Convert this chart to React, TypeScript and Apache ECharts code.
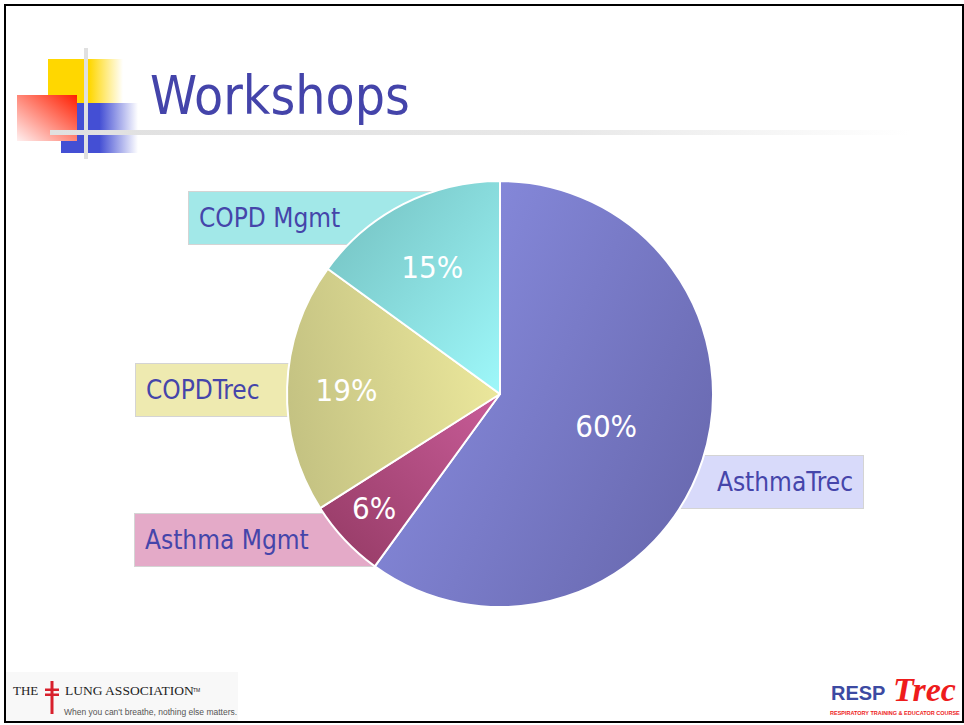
import React, { useEffect, useRef } from "react";
import * as echarts from "echarts";

const titleText = "Workshops";
const categories = ["AsthmaTrec", "Asthma Mgmt", "COPDTrec", "COPD Mgmt"];
const values = [60, 6, 19, 15];

// styles (kept apart from data)
const sliceGrad: [number, number, number, number, string, string][] = [
  [0, 0.2, 1, 0.8, "#8a8ee2", "#6868ae"],
  [1, 0, 0, 1, "#c85c98", "#943a64"],
  [1, 0.4, 0, 0.6, "#ece89c", "#c4c282"],
  [1, 1, 0, 0, "#9ef8fa", "#72bebe"],
];
const boxColors = ["#d8dafa", "#e4aac8", "#eeeab0", "#a2e8e8"];
const boxPos: { x: number; y: number; align: string }[] = [
  { x: 863, y: 482, align: "right" },
  { x: 135, y: 540, align: "left" },
  { x: 136, y: 390, align: "left" },
  { x: 189, y: 218, align: "left" },
];
const pctOffsets: [number, number][] = [
  [2, -2],
  [-46, 39],
  [-44, -1],
  [-18, -29],
];

const FONT = "'DejaVu Sans Condensed', 'DejaVu Sans', Tahoma, sans-serif";
const BLUE_TEXT = "#4545aa";

export default function App() {
  const ref = useRef<HTMLDivElement>(null);
  useEffect(() => {
    document.body.style.margin = "0";
    const chart = echarts.init(ref.current!, null, { renderer: "svg" });
    const lin = (g: [number, number, number, number, string, string]) =>
      new echarts.graphic.LinearGradient(g[0], g[1], g[2], g[3], [
        { offset: 0, color: g[4] },
        { offset: 1, color: g[5] },
      ]);
    const mainData = categories.map((name, i) => ({
      name,
      value: values[i],
      itemStyle: { color: lin(sliceGrad[i]) },
      label: { offset: pctOffsets[i] },
    }));
    const labelData = categories.map((name, i) => ({
      name,
      value: values[i],
      label: { backgroundColor: boxColors[i], align: boxPos[i].align },
    }));
    chart.setOption({
      animation: false,
      backgroundColor: "#ffffff",
      series: [
        {
          type: "pie",
          z: 1,
          silent: true,
          center: [500, 394],
          radius: 213,
          startAngle: 90,
          avoidLabelOverlap: false,
          itemStyle: { color: "rgba(0,0,0,0)" },
          label: {
            show: true,
            position: "outside",
            formatter: "{b}",
            fontFamily: FONT,
            fontSize: 26,
            color: BLUE_TEXT,
            borderColor: "#d4d4d4",
            borderWidth: 1,
            padding: [0, 10],
            width: 232,
            height: 52,
            lineHeight: 52,
          },
          labelLine: { show: false },
          labelLayout: (p: any) => ({
            x: boxPos[p.dataIndex].x,
            y: boxPos[p.dataIndex].y,
            align: boxPos[p.dataIndex].align,
            verticalAlign: "middle",
          }),
          data: labelData,
        },
        {
          type: "pie",
          z: 5,
          silent: true,
          center: [500, 394],
          radius: 213,
          startAngle: 90,
          avoidLabelOverlap: false,
          itemStyle: { borderColor: "#ffffff", borderWidth: 2 },
          label: {
            show: true,
            position: "inside",
            formatter: "{d}%",
            fontFamily: FONT,
            fontSize: 31,
            color: "#ffffff",
          },
          labelLine: { show: false },
          data: mainData,
        },
      ],
      graphic: [
        // page frame
        {
          type: "rect",
          z: 100,
          shape: { x: 5, y: 5, width: 958, height: 717 },
          style: { fill: "none", stroke: "#000000", lineWidth: 2 },
        },
        // decorative squares
        {
          type: "rect",
          z: 10,
          shape: { x: 48, y: 59, width: 75, height: 46 },
          style: {
            fill: new echarts.graphic.LinearGradient(0, 0, 1, 0, [
              { offset: 0, color: "#ffd700" },
              { offset: 0.55, color: "#ffd700" },
              { offset: 1, color: "#ffffff" },
            ]),
          },
        },
        {
          type: "rect",
          z: 11,
          shape: { x: 61, y: 103, width: 77, height: 50 },
          style: {
            fill: new echarts.graphic.LinearGradient(0, 0, 1, 0, [
              { offset: 0, color: "#444fd4" },
              { offset: 0.5, color: "#444fd4" },
              { offset: 1, color: "#ffffff" },
            ]),
          },
        },
        {
          type: "rect",
          z: 12,
          shape: { x: 17, y: 95, width: 60, height: 46 },
          style: {
            fill: new echarts.graphic.LinearGradient(1, 0, 0, 1, [
              { offset: 0, color: "#ff1e00" },
              { offset: 1, color: "#fff0f0" },
            ]),
          },
        },
        {
          type: "rect",
          z: 13,
          shape: { x: 84, y: 48, width: 4, height: 111 },
          style: { fill: "#e0e0e0" },
        },
        {
          type: "rect",
          z: 13,
          shape: { x: 50, y: 130, width: 860, height: 5 },
          style: {
            fill: new echarts.graphic.LinearGradient(0, 0, 1, 0, [
              { offset: 0, color: "#e0e0e0" },
              { offset: 0.6, color: "#e8e8e8" },
              { offset: 1, color: "#ffffff" },
            ]),
          },
        },
        {
          type: "text",
          z: 20,
          x: 150,
          y: 95,
          style: {
            text: titleText,
            fontFamily: FONT,
            fontSize: 53,
            fill: "#4444aa",
            align: "left",
            verticalAlign: "middle",
          },
        },
        // Lung Association logo
        {
          type: "rect",
          z: 2,
          shape: { x: 6, y: 672, width: 232, height: 49 },
          style: { fill: "#f8f8f8" },
        },
        {
          type: "text",
          z: 20,
          x: 13,
          y: 697,
          style: {
            text: "THE",
            fontFamily: "'Liberation Serif', 'DejaVu Serif', serif",
            fontSize: 13,
            fill: "#222222",
            verticalAlign: "bottom",
          },
        },
        {
          type: "rect",
          z: 20,
          shape: { x: 50.5, y: 681, width: 3, height: 33 },
          style: { fill: "#d8202c" },
        },
        {
          type: "rect",
          z: 20,
          shape: { x: 45, y: 688.5, width: 14, height: 2.5 },
          style: { fill: "#d8202c" },
        },
        {
          type: "rect",
          z: 20,
          shape: { x: 45, y: 693.5, width: 14, height: 2.5 },
          style: { fill: "#d8202c" },
        },
        {
          type: "text",
          z: 20,
          x: 65,
          y: 697,
          style: {
            text: "LUNG ASSOCIATION",
            fontFamily: "'Liberation Serif', 'DejaVu Serif', serif",
            fontSize: 13.5,
            fill: "#222222",
            verticalAlign: "bottom",
          },
        },
        {
          type: "text",
          z: 20,
          x: 193,
          y: 692,
          style: {
            text: "TM",
            fontFamily: "'Liberation Sans', sans-serif",
            fontSize: 5,
            fill: "#222222",
            verticalAlign: "bottom",
          },
        },
        {
          type: "text",
          z: 20,
          x: 64,
          y: 716,
          style: {
            text: "When you can't breathe, nothing else matters.",
            fontFamily: "'Liberation Sans', Arial, sans-serif",
            fontSize: 8.5,
            fill: "#555555",
            verticalAlign: "bottom",
          },
        },
        // RESP Trec logo
        {
          type: "text",
          z: 20,
          x: 831,
          y: 703,
          style: {
            text: "RESP",
            fontFamily: "'Liberation Sans', Arial, sans-serif",
            fontWeight: "bold",
            fontSize: 20,
            fill: "#3c4aa2",
            verticalAlign: "bottom",
          },
        },
        {
          type: "text",
          z: 20,
          x: 893,
          y: 706,
          style: {
            text: "Trec",
            fontFamily: "'Liberation Serif', 'DejaVu Serif', serif",
            fontWeight: "bold",
            fontStyle: "italic",
            fontSize: 34,
            fill: "#ee1c1c",
            verticalAlign: "bottom",
          },
        },
        {
          type: "text",
          z: 20,
          x: 830,
          y: 716,
          style: {
            text: "RESPIRATORY TRAINING & EDUCATOR COURSE",
            fontFamily: "'Liberation Sans Narrow', 'Liberation Sans', Arial, sans-serif",
            fontWeight: "bold",
            fontSize: 5.5,
            fill: "#ee1c1c",
            verticalAlign: "bottom",
          },
        },
      ],
    });
    return () => chart.dispose();
  }, []);
  return <div ref={ref} style={{ width: 964, height: 725 }} />;
}
